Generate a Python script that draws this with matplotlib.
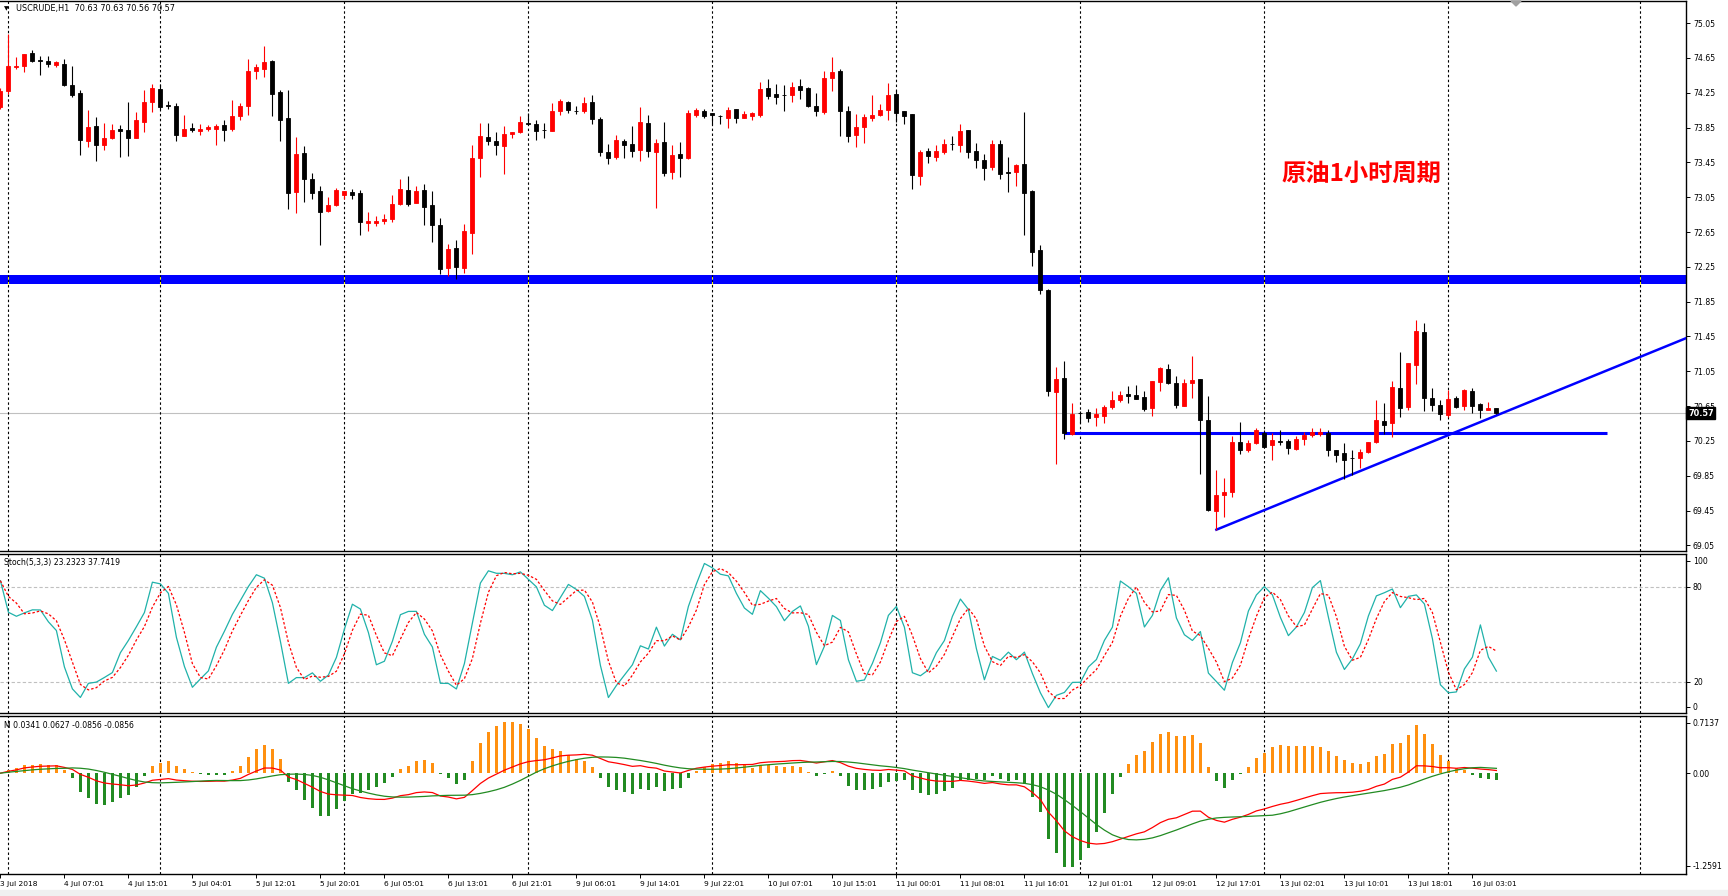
import numpy as np
import pandas as pd
import matplotlib
matplotlib.use("Agg")
import matplotlib.pyplot as plt
from matplotlib.patches import Polygon, Rectangle
from matplotlib.transforms import blended_transform_factory

# ---------------- data (H1 candles, USCRUDE) ----------------
opens = [74.09, 74.27, 74.54, 74.56, 74.71, 74.62, 74.61, 74.57, 74.58, 74.34,
         74.25, 73.70, 73.87, 73.65, 73.73, 73.83, 73.82, 73.73, 73.91, 74.14,
         74.29, 74.10, 74.10, 73.75, 73.85, 73.81, 73.83, 73.83, 73.88, 73.83,
         73.98, 74.10, 74.50, 74.52, 74.61, 74.26, 73.96, 73.11, 73.56, 73.26,
         73.12, 72.89, 72.96, 73.08, 73.11, 73.10, 72.75, 72.75, 72.78, 72.80,
         72.97, 73.13, 72.98, 73.13, 72.96, 72.73, 72.24, 72.47, 72.24, 72.64,
         73.50, 73.74, 73.70, 73.64, 73.78, 73.80, 73.90, 73.89, 73.82, 73.81,
         74.04, 74.14, 74.04, 74.04, 74.14, 73.95, 73.57, 73.51, 73.70, 73.66,
         73.59, 73.90, 73.57, 73.68, 73.34, 73.55, 73.50, 73.99, 74.04, 74.02,
         73.98, 73.96, 74.06, 73.96, 73.98, 73.99, 74.30, 74.24, 74.22, 74.22,
         74.33, 74.30, 74.10, 74.03, 74.42, 74.50, 74.04, 73.76, 73.86, 73.96,
         73.99, 74.05, 74.24, 74.04, 74.01, 73.29, 73.58, 73.51, 73.57, 73.66,
         73.65, 73.82, 73.58, 73.48, 73.40, 73.66, 73.33, 73.34, 73.43, 73.12,
         72.44, 71.98, 70.81, 70.97, 70.33, 70.57, 70.58, 70.53, 70.54, 70.64,
         70.72, 70.79, 70.78, 70.76, 70.63, 70.93, 71.08, 70.92, 70.65, 70.92,
         70.96, 70.49, 69.45, 69.63, 69.66, 70.24, 70.15, 70.23, 70.34, 70.20,
         70.24, 70.25, 70.16, 70.27, 70.32, 70.33, 70.34, 70.14, 70.11, 70.05,
         70.05, 70.12, 70.24, 70.48, 70.45, 70.86, 70.64, 71.12, 71.50, 70.74,
         70.66, 70.55, 70.74, 70.65, 70.82, 70.67, 70.61, 70.63]
highs = [74.31, 74.92, 74.66, 74.70, 74.74, 74.67, 74.67, 74.61, 74.64, 74.56,
         74.28, 74.05, 73.97, 73.90, 73.89, 73.88, 74.14, 74.03, 74.28, 74.35,
         74.35, 74.15, 74.13, 73.99, 73.90, 73.89, 73.88, 73.89, 73.94, 74.17,
         74.13, 74.64, 74.58, 74.79, 74.63, 74.28, 74.28, 73.74, 73.64, 73.33,
         73.18, 73.05, 73.16, 73.12, 73.14, 73.13, 72.88, 72.83, 72.86, 73.08,
         73.26, 73.29, 73.18, 73.20, 73.12, 72.81, 72.51, 72.56, 72.74, 73.65,
         73.90, 73.90, 73.80, 73.87, 73.80, 73.98, 74.02, 73.94, 73.90, 74.13,
         74.18, 74.16, 74.10, 74.20, 74.22, 73.97, 73.66, 73.76, 73.72, 73.87,
         74.09, 73.99, 73.72, 73.91, 73.65, 73.68, 74.05, 74.07, 74.06, 74.02,
         73.99, 74.09, 74.06, 74.04, 74.03, 74.37, 74.41, 74.35, 74.34, 74.37,
         74.41, 74.32, 74.25, 74.50, 74.66, 74.52, 74.10, 74.00, 74.00, 74.22,
         74.12, 74.36, 74.28, 74.04, 74.01, 73.59, 73.62, 73.65, 73.72, 73.75,
         73.89, 73.82, 73.67, 73.55, 73.71, 73.71, 73.51, 73.43, 74.03, 73.13,
         72.50, 72.00, 71.10, 71.17, 70.69, 70.59, 70.62, 70.63, 70.66, 70.82,
         70.82, 70.88, 70.89, 70.82, 70.94, 71.10, 71.13, 71.00, 70.96, 71.23,
         70.96, 70.77, 69.91, 69.82, 70.31, 70.47, 70.26, 70.40, 70.37, 70.34,
         70.37, 70.27, 70.31, 70.35, 70.40, 70.40, 70.38, 70.15, 70.23, 70.14,
         70.16, 70.24, 70.72, 70.69, 70.94, 71.27, 71.15, 71.64, 71.61, 70.86,
         70.72, 70.84, 70.77, 70.85, 70.86, 70.69, 70.70, 70.63]
lows = [74.06, 74.24, 74.52, 74.49, 74.60, 74.45, 74.54, 74.55, 74.33, 74.20,
        73.54, 73.63, 73.47, 73.59, 73.72, 73.51, 73.52, 73.73, 73.80, 74.03,
        74.06, 74.06, 73.70, 73.75, 73.80, 73.77, 73.81, 73.65, 73.70, 73.81,
        73.94, 73.99, 74.41, 74.43, 73.98, 73.70, 72.92, 72.87, 73.00, 73.03,
        72.50, 72.88, 72.95, 73.03, 73.03, 72.61, 72.66, 72.72, 72.74, 72.77,
        72.96, 72.95, 72.98, 72.73, 72.54, 72.17, 72.15, 72.11, 72.18, 72.40,
        73.28, 73.65, 73.54, 73.32, 73.73, 73.79, 73.88, 73.71, 73.73, 73.81,
        73.99, 74.02, 74.01, 74.02, 73.89, 73.52, 73.43, 73.49, 73.50, 73.51,
        73.47, 73.51, 72.93, 73.29, 73.26, 73.28, 73.49, 73.97, 73.96, 73.89,
        73.89, 73.84, 73.90, 73.96, 73.94, 73.97, 74.18, 74.12, 74.04, 74.14,
        74.18, 74.09, 73.98, 74.01, 74.27, 73.75, 73.68, 73.63, 73.67, 73.93,
        73.98, 73.94, 73.91, 73.89, 73.14, 73.19, 73.44, 73.47, 73.55, 73.59,
        73.57, 73.50, 73.39, 73.25, 73.36, 73.26, 73.11, 73.18, 72.62, 72.26,
        71.94, 70.77, 69.99, 70.27, 70.32, 70.46, 70.47, 70.42, 70.46, 70.62,
        70.70, 70.69, 70.73, 70.59, 70.54, 70.82, 70.90, 70.63, 70.65, 70.74,
        69.87, 69.45, 69.23, 69.38, 69.60, 70.10, 70.12, 70.22, 70.18, 70.03,
        70.20, 70.10, 70.15, 70.20, 70.29, 70.31, 70.08, 70.01, 69.81, 69.86,
        69.94, 70.11, 70.23, 70.33, 70.29, 70.53, 70.61, 70.90, 70.59, 70.59,
        70.49, 70.53, 70.63, 70.61, 70.57, 70.51, 70.60, 70.56]
closes = [74.27, 74.56, 74.56, 74.70, 74.61, 74.62, 74.58, 74.60, 74.34, 74.22,
          73.71, 73.86, 73.65, 73.73, 73.82, 73.81, 73.73, 73.94, 74.14, 74.31,
          74.09, 74.10, 73.77, 73.83, 73.82, 73.83, 73.86, 73.87, 73.82, 73.98,
          74.10, 74.50, 74.55, 74.60, 74.24, 73.94, 73.10, 73.55, 73.26, 73.10,
          72.88, 72.96, 73.13, 73.12, 73.08, 72.77, 72.78, 72.78, 72.80, 72.97,
          73.14, 72.97, 73.12, 72.94, 72.73, 72.23, 72.45, 72.25, 72.66, 73.50,
          73.75, 73.70, 73.65, 73.78, 73.80, 73.91, 73.89, 73.81, 73.82, 74.04,
          74.15, 74.05, 74.04, 74.13, 73.95, 73.57, 73.50, 73.71, 73.65, 73.58,
          73.91, 73.58, 73.67, 73.33, 73.53, 73.50, 74.02, 74.05, 73.98, 73.99,
          73.98, 74.05, 73.96, 74.01, 74.02, 74.29, 74.21, 74.20, 74.22, 74.32,
          74.28, 74.10, 74.04, 74.42, 74.49, 74.04, 73.75, 73.86, 73.97, 73.99,
          74.05, 74.22, 74.02, 73.98, 73.31, 73.57, 73.52, 73.58, 73.66, 73.66,
          73.81, 73.57, 73.48, 73.39, 73.66, 73.32, 73.33, 73.42, 73.10, 72.42,
          71.98, 70.82, 70.96, 70.34, 70.56, 70.57, 70.51, 70.56, 70.64, 70.72,
          70.78, 70.77, 70.73, 70.62, 70.94, 71.09, 70.92, 70.66, 70.92, 70.95,
          70.49, 69.46, 69.63, 69.66, 70.24, 70.14, 70.23, 70.37, 70.18, 70.26,
          70.24, 70.17, 70.27, 70.32, 70.35, 70.35, 70.14, 70.09, 70.03, 70.05,
          70.12, 70.24, 70.49, 70.43, 70.87, 70.63, 71.15, 71.51, 70.74, 70.66,
          70.56, 70.73, 70.64, 70.84, 70.65, 70.61, 70.63, 70.57]

# time axis labels (every 8th bar)
tick_bars = [0, 8, 16, 24, 32, 40, 48, 56, 64, 72, 80, 88, 96, 104, 112, 120,
             128, 136, 144, 152, 160, 168, 176, 184]
tick_labels = ["3 Jul 2018", "4 Jul 07:01", "4 Jul 15:01", "5 Jul 04:01", "5 Jul 12:01",
               "5 Jul 20:01", "6 Jul 05:01", "6 Jul 13:01", "6 Jul 21:01", "9 Jul 06:01",
               "9 Jul 14:01", "9 Jul 22:01", "10 Jul 07:01", "10 Jul 15:01", "11 Jul 00:01",
               "11 Jul 08:01", "11 Jul 16:01", "12 Jul 01:01", "12 Jul 09:01", "12 Jul 17:01",
               "13 Jul 02:01", "13 Jul 10:01", "13 Jul 18:01", "16 Jul 03:01"]
day_separators = [1, 20, 43, 66, 89, 112, 135, 158, 181, 205]
price_ticks = [75.05, 74.65, 74.25, 73.85, 73.45, 73.05, 72.65, 72.25, 71.85,
               71.45, 71.05, 70.65, 70.25, 69.85, 69.45, 69.05]

# drawn objects
band_low, band_high = 72.05, 72.16
support_level = 70.34
support_x = [133, 200.8]
trend_x = [152, 210.7]
trend_y = [69.23, 71.43]
last_price = 70.57

header_main = "USCRUDE,H1  70.63 70.63 70.56 70.57"
header_stoch = "Stoch(5,3,3) 23.2323 37.7419"
header_macd = "M 0.0341 0.0627 -0.0856 -0.0856"
title_cn = "原油1小时周期"

# ---------------- indicators from the candles ----------------
o = np.array(opens); c = np.array(closes); hi = np.array(highs); lo = np.array(lows)
n = len(c)
x = np.arange(n)
cs, hs, ls = pd.Series(c), pd.Series(hi), pd.Series(lo)
ll5 = ls.rolling(5, min_periods=1).min()
hh5 = hs.rolling(5, min_periods=1).max()
num = (cs - ll5).rolling(3, min_periods=1).sum()
den = (hh5 - ll5).rolling(3, min_periods=1).sum()
stoch_k = (100 * num / den).values
stoch_d = pd.Series(stoch_k).rolling(3, min_periods=1).mean().values

ema12 = cs.ewm(span=12, adjust=False).mean()
ema26 = cs.ewm(span=26, adjust=False).mean()
macd = (ema12 - ema26).values
signal = pd.Series(macd).rolling(9, min_periods=1).mean().values
hist = 3 * (macd - signal)

# ---------------- figure ----------------
W, H = 1728, 896
fig = plt.figure(figsize=(W / 100, H / 100), dpi=100)
fig.patch.set_facecolor("white")
plt.rcParams["font.family"] = ["DejaVu Sans"]

AXW = 1686 / W
ax = fig.add_axes([0, 1 - 551 / H, AXW, 550 / H])
ax_s = fig.add_axes([0, 1 - 713 / H, AXW, 159 / H])
ax_m = fig.add_axes([0, 1 - 874 / H, AXW, 158 / H])
XL = (-0.05, 210.7)
SMALL = 5.6

for a in (ax, ax_s, ax_m):
    a.set_xlim(*XL)
    a.spines["left"].set_visible(False)
    for s in ("top", "right", "bottom"):
        a.spines[s].set_linewidth(1.0)
        a.spines[s].set_color("black")
    a.yaxis.tick_right()
    a.tick_params(axis="y", direction="out", length=3, width=0.7, pad=2,
                  labelsize=SMALL, colors="black")
    a.set_xticks([])
    a.set_facecolor("white")
    for xs in day_separators:
        a.axvline(xs, color="black", lw=0.8, ls=(0, (2.2, 2.2)), zorder=2)

# ----- main price panel -----
ax.set_ylim(68.985, 75.304)
ax.set_yticks(price_ticks)
ax.set_yticklabels([f"{v:.2f}" for v in price_ticks])

ax.axhspan(band_low, band_high, color="#0000FF", lw=0, zorder=1)
for xs in day_separators:
    ax.vlines(xs, band_low, band_high, color="#FFFF00", lw=0.8,
              linestyles=(0, (2.2, 2.2)), zorder=3)
ax.axhline(last_price, color="#C0C0C0", lw=0.8, zorder=1)
ax.plot(support_x, [support_level, support_level], color="#0000FF", lw=2.2,
        solid_capstyle="butt", zorder=3)
ax.plot(trend_x, trend_y, color="#0000FF", lw=1.8, zorder=3)

up = c > o
col = np.where(up, "#FF0000", "#000000")
ax.vlines(x, lo, hi, colors=col, lw=0.8, zorder=5)
body_bot = np.minimum(o, c)
body_h = np.maximum(np.abs(c - o), 0.004)
ax.bar(x, body_h, bottom=body_bot, width=0.52, color=col, edgecolor=col,
       linewidth=0.6, zorder=6)

tr = blended_transform_factory(ax.transAxes, ax.transData)
ax.text(1.0012, last_price, f"{last_price:.2f}", transform=tr, ha="left", va="center",
        color="white", fontsize=5.9, fontweight="bold", zorder=10, clip_on=False,
        bbox=dict(boxstyle="square,pad=0.22", facecolor="black", edgecolor="black"))

fig.text(6 / W, 1 - 8.5 / H, "\u25BC", fontsize=4.5, ha="center", va="center", color="black")
fig.text(16 / W, 1 - 8.5 / H, header_main, fontsize=5.9, ha="left", va="center", color="black")
fig.text(1281 / W, 1 - 174 / H, title_cn, fontsize=17.5, fontweight="bold", color="#FF0000",
         ha="left", va="center", family=["Noto Sans CJK SC", "DejaVu Sans"])

# ----- stochastic panel -----
ax_s.set_ylim(0.1, 100.9)
ax_s.set_yticks([96.6, 80, 20, 4.0])
ax_s.set_yticklabels(["100", "80", "20", "0"])
for lvl in (80, 20):
    ax_s.axhline(lvl, color="#C0C0C0", lw=0.8, ls=(0, (3, 2)), zorder=1)
ax_s.plot(x, stoch_k, color="#20B2AA", lw=0.9, zorder=4)
ax_s.plot(x, stoch_d, color="#FF0000", lw=0.9, ls=(0, (2, 1.6)), zorder=4)
fig.text(4 / W, 1 - 562 / H, header_stoch, fontsize=SMALL, ha="left", va="center", color="black")

# ----- MACD panel -----
ax_m.set_ylim(-1.2591, 0.7137)
ax_m.set_yticks([0.628, 0.0, -1.158])
ax_m.set_yticklabels(["0.7137", "0.00", "-1.2591"])
hcol = np.where(hist >= 0, "#FF9010", "#228B22")
ax_m.bar(x, hist, width=0.38, color=hcol, linewidth=0, zorder=3)
ax_m.plot(x, macd, color="#FF0000", lw=0.9, zorder=4)
ax_m.plot(x, signal, color="#228B22", lw=0.9, zorder=4)
fig.text(4 / W, 1 - 725 / H, header_macd, fontsize=SMALL, ha="left", va="center", color="black")

ax_m.set_xticks(tick_bars)
ax_m.set_xticklabels(tick_labels)
ax_m.tick_params(axis="x", direction="out", length=3, width=0.7, pad=2,
                 labelsize=5.4, colors="black")
for lbl in ax_m.get_xticklabels():
    lbl.set_ha("left")

# decorations: shift marker and bottom strip
tri = Polygon([(1511 / W, 1 - 1 / H), (1521 / W, 1 - 1 / H), (1516 / W, 1 - 6 / H)],
              closed=True, transform=fig.transFigure, color="#A0A0A0", zorder=20)
fig.patches.append(tri)
fig.patches.append(Rectangle((0, 0), 1, 6 / H, transform=fig.transFigure,
                             color="#F0F0F0", zorder=0))

fig.savefig("out.png", dpi=100, facecolor="white")
